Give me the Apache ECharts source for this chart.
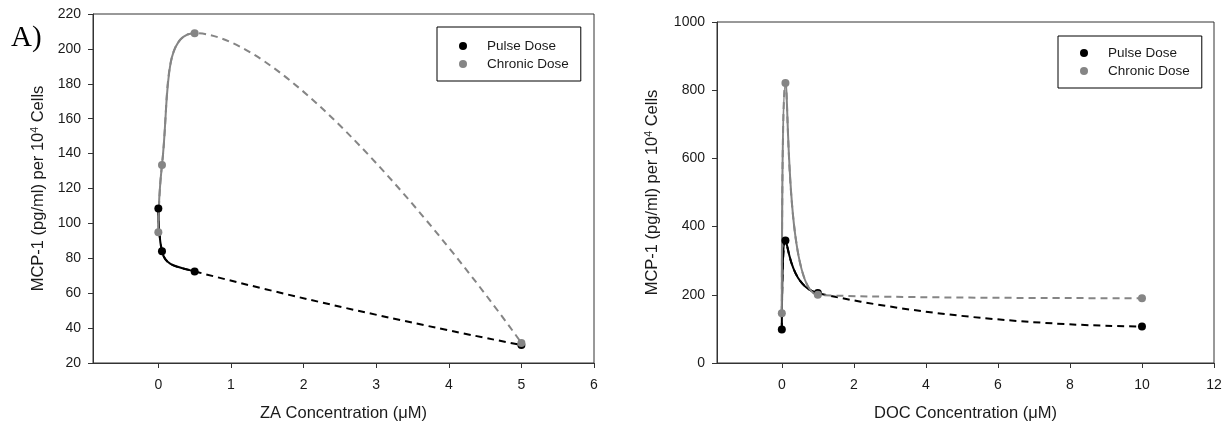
<!DOCTYPE html>
<html><head><meta charset="utf-8">
<script src="https://cdn.jsdelivr.net/npm/echarts@6/dist/echarts.min.js"></script>
<style>html,body{margin:0;padding:0;background:#fff}#c{width:1225px;height:427px}</style>
</head><body><div id="c"></div>
<script>
// ---- data ----
const zaConc = [0, 0.05, 0.5, 5];
const zaPulse = [108.5, 84, 72.5, 30.3];
const zaChronic = [95, 133.5, 209, 31.5];
const docConc = [0, 0.1, 1, 10];
const docPulse = [98, 359, 205, 107];
const docChronic = [146, 821, 200, 190];
const zaTicksX = [0, 1, 2, 3, 4, 5, 6];
const docTicksX = [0, 2, 4, 6, 8, 10, 12];
const seriesNames = ['Pulse Dose', 'Chronic Dose'];
const zaSolidEnd = 0.5;   // solid curve up to this concentration, dashed beyond
const docSolidEnd = 1;

const FONT = '"Liberation Sans", Arial, sans-serif';
const BLACK = '#000000';
const GRAY = '#858585';
const TXT = '#1a1a1a';

function pairs(xs, ys) { return xs.map((x, i) => [x, ys[i]]); }

const series = [];
const solidInfo = [];
function addCurve(gi, xs, ys, color, name, solidEnd) {
  const data = pairs(xs, ys);
  series.push({
    type: 'line', xAxisIndex: gi, yAxisIndex: gi, data, smooth: 0.5,
    symbol: 'none', silent: true, z: 2,
    lineStyle: { color, width: 2, type: [7, 5] }
  });
  series.push({
    type: 'line', xAxisIndex: gi, yAxisIndex: gi, data, smooth: 0.5,
    symbol: 'none', silent: true, z: 3,
    lineStyle: { color, width: 2 }
  });
  solidInfo.push({ index: series.length - 1, gi, color, solidEnd });
  series.push({
    type: 'scatter', name, xAxisIndex: gi, yAxisIndex: gi, data,
    symbol: 'circle', symbolSize: 8, z: 5,
    itemStyle: { color, opacity: 1 }
  });
}
addCurve(0, zaConc, zaPulse, BLACK, seriesNames[0], zaSolidEnd);
addCurve(0, zaConc, zaChronic, GRAY, seriesNames[1], zaSolidEnd);
addCurve(1, docConc, docPulse, BLACK, seriesNames[0], docSolidEnd);
addCurve(1, docConc, docChronic, GRAY, seriesNames[1], docSolidEnd);

const yName = 'MCP-1 (pg/ml) per 10{sup|4} Cells';
const nameStyle = {
  fontFamily: FONT, fontSize: 16.5, color: TXT,
  rich: { sup: { fontFamily: FONT, fontSize: 10.5, color: TXT, verticalAlign: 'top' } }
};
const axisLineStyle = { show: true, onZero: false, lineStyle: { color: '#333', width: 1 } };
const tickStyle = { show: true, inside: false, length: 5, lineStyle: { color: '#333', width: 1 } };
const labelStyle = { fontFamily: FONT, fontSize: 14, color: TXT, formatter: v => String(v) };

function xAxis(gi, min, max, ticks, name) {
  return {
    type: 'value', gridIndex: gi, min, max,
    axisLine: axisLineStyle,
    axisTick: Object.assign({ customValues: ticks }, tickStyle),
    axisLabel: Object.assign({ customValues: ticks, margin: 15 }, labelStyle),
    splitLine: { show: false },
    name, nameLocation: 'middle', nameGap: 42,
    nameTextStyle: { fontFamily: FONT, fontSize: 16.5, color: TXT }
  };
}
function yAxis(gi, min, max, interval, gap) {
  return {
    type: 'value', gridIndex: gi, min, max, interval,
    axisLine: axisLineStyle, axisTick: tickStyle,
    axisLabel: Object.assign({ margin: 12 }, labelStyle),
    splitLine: { show: false },
    name: yName, nameLocation: 'middle', nameGap: gap, nameTextStyle: nameStyle
  };
}
function legend(left, top, pad) {
  return {
    data: seriesNames, orient: 'vertical', left, top,
    icon: 'circle', itemWidth: 38, itemHeight: 8, itemGap: 0,
    padding: pad, borderColor: '#000', borderWidth: 1,
    selectedMode: false,
    textStyle: { fontFamily: FONT, fontSize: 13.5, color: TXT, lineHeight: 18 }
  };
}

const option = {
  animation: false,
  backgroundColor: '#fff',
  grid: [
    { left: 93, top: 14, right: 631, bottom: 62, show: true, borderColor: '#333', borderWidth: 1, backgroundColor: 'transparent' },
    { left: 717, top: 22, right: 11, bottom: 61, show: true, borderColor: '#333', borderWidth: 1, backgroundColor: 'transparent' }
  ],
  xAxis: [
    xAxis(0, -0.9, 6, zaTicksX, 'ZA Concentration (\u03bcM)'),
    xAxis(1, -1.8, 12, docTicksX, 'DOC Concentration (\u03bcM)')
  ],
  yAxis: [
    yAxis(0, 20, 220, 20, 46),
    yAxis(1, 0, 1000, 200, 56)
  ],
  legend: [legend(437, 27, [10, 12, 8, 22]), legend(1058, 36, [8, 12, 8, 22])],
  graphic: [{
    type: 'text', left: 11, top: 24,
    style: { text: 'A)', font: '29px "Liberation Serif", "Times New Roman", serif', fill: '#000' }
  }],
  series
};
const chart = echarts.init(document.getElementById('c'), null, { renderer: 'canvas' });
chart.setOption(option);

// solid part of each fitted curve: same smoothed path, stroked only up to solidEnd
const upd = solidInfo.map(s => {
  const gridModel = chart.getModel().getComponent('grid', s.gi);
  const rect = gridModel.coordinateSystem.getRect();
  const px = chart.convertToPixel({ gridIndex: s.gi }, [s.solidEnd, 0])[0];
  const f = Math.max(0, Math.min(1, (px - rect.x) / rect.width));
  const grad = new echarts.graphic.LinearGradient(rect.x, 0, rect.x + rect.width, 0, [
    { offset: 0, color: s.color }, { offset: f, color: s.color },
    { offset: f, color: 'rgba(0,0,0,0)' }, { offset: 1, color: 'rgba(0,0,0,0)' }
  ], true);
  return { lineStyle: { color: grad, width: 2 } };
});
const seriesUpd = series.map(() => ({}));
solidInfo.forEach((s, k) => { seriesUpd[s.index] = upd[k]; });
chart.setOption({ series: seriesUpd });
</script>
</body></html>
